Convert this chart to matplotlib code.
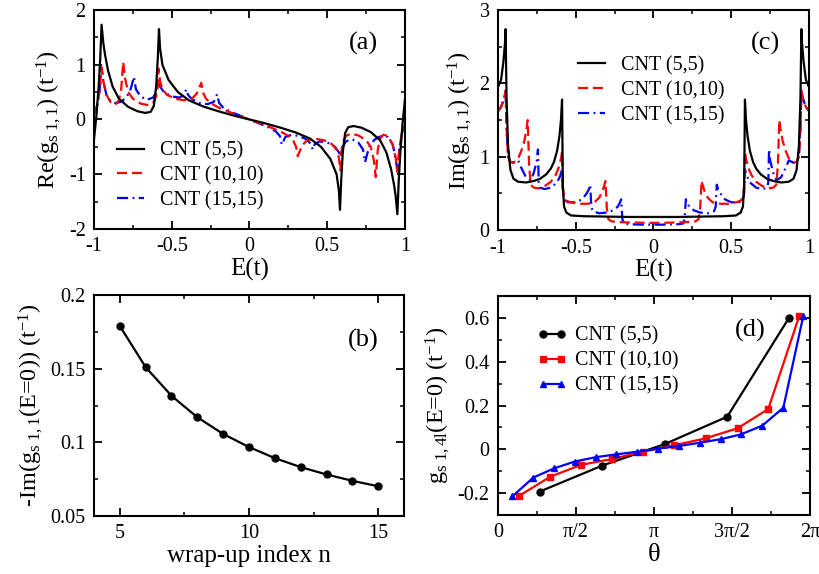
import numpy as np
import matplotlib
matplotlib.use("Agg")
from matplotlib import pyplot as plt
from matplotlib.ticker import MultipleLocator, FixedLocator, FixedFormatter, FormatStrFormatter

plt.rcParams['font.family'] = ['Liberation Serif', 'DejaVu Serif']
plt.rcParams['mathtext.fontset'] = 'custom'
plt.rcParams['mathtext.rm'] = 'Liberation Serif'
plt.rcParams['mathtext.it'] = 'Liberation Serif:italic'
plt.rcParams['axes.unicode_minus'] = False

# ---- panel (a): Re g_s11 vs E ----
e_re_55 = [-1.0, -0.985, -0.97, -0.96, -0.951, -0.94, -0.93, -0.91, -0.88, -0.84, -0.78, -0.72, -0.67,
           -0.635, -0.615, -0.60, -0.59, -0.582, -0.575, -0.56, -0.52, -0.46, -0.39, -0.30, -0.20, -0.10,
           0.0, 0.10, 0.20, 0.30, 0.39, 0.46, 0.52, 0.56, 0.575, 0.582, 0.59, 0.60, 0.615, 0.635, 0.67,
           0.72, 0.78, 0.84, 0.88, 0.91, 0.93, 0.94, 0.951, 0.96, 0.97, 0.985, 1.0]
re_55 = [-0.37, 0.05, 0.6, 1.1, 1.73, 1.4, 1.2, 0.9, 0.6, 0.38, 0.23, 0.15, 0.12,
         0.14, 0.25, 0.6, 1.1, 1.65, 1.3, 1.0, 0.72, 0.5, 0.35, 0.24, 0.15, 0.07,
         0.0, -0.07, -0.15, -0.24, -0.35, -0.5, -0.72, -1.0, -1.3, -1.65, -1.1, -0.6, -0.25, -0.14, -0.12,
         -0.15, -0.23, -0.38, -0.6, -0.9, -1.2, -1.4, -1.73, -1.1, -0.6, -0.05, 0.37]

e_re_1010 = [-1.0, -0.98, -0.965, -0.951, -0.94, -0.92, -0.89, -0.86, -0.84, -0.825, -0.812, -0.80,
             -0.78, -0.75, -0.70, -0.65, -0.62, -0.60, -0.59, -0.585, -0.575, -0.56, -0.53, -0.48,
             -0.42, -0.37, -0.34, -0.32, -0.31, -0.30, -0.28, -0.25, -0.20, -0.14, -0.08, 0.0,
             0.08, 0.14, 0.20, 0.25, 0.28, 0.30, 0.31, 0.32, 0.34, 0.37, 0.42, 0.48, 0.53, 0.56, 0.575,
             0.585, 0.59, 0.60, 0.62, 0.65, 0.70, 0.75, 0.78, 0.80, 0.812, 0.825, 0.84, 0.86, 0.89,
             0.92, 0.94, 0.951, 0.965, 0.98, 1.0]
re_1010 = [0.1, 0.25, 0.5, 0.95, 0.7, 0.45, 0.3, 0.28, 0.35, 0.55, 1.05, 0.75,
           0.5, 0.38, 0.29, 0.26, 0.3, 0.42, 0.6, 0.93, 0.7, 0.55, 0.45, 0.38,
           0.35, 0.38, 0.47, 0.6, 0.67, 0.5, 0.38, 0.3, 0.22, 0.15, 0.08, 0.0,
           -0.08, -0.15, -0.22, -0.3, -0.38, -0.5, -0.67, -0.6, -0.47, -0.38, -0.35, -0.38, -0.45, -0.55, -0.7,
           -0.93, -0.6, -0.42, -0.3, -0.26, -0.29, -0.38, -0.5, -0.75, -1.05, -0.55, -0.35, -0.28, -0.3,
           -0.45, -0.7, -0.95, -0.5, -0.25, -0.1]

e_re_1515 = [-1.0, -0.98, -0.965, -0.951, -0.94, -0.92, -0.89, -0.86, -0.83, -0.80, -0.77, -0.755,
             -0.743, -0.73, -0.70, -0.66, -0.62, -0.60, -0.588, -0.575, -0.55, -0.50, -0.45, -0.42,
             -0.407, -0.395, -0.37, -0.32, -0.27, -0.23, -0.208, -0.195, -0.17, -0.12, -0.06, 0.0,
             0.06, 0.12, 0.17, 0.195, 0.208, 0.23, 0.27, 0.32, 0.37, 0.395, 0.407, 0.42, 0.45, 0.50,
             0.55, 0.575, 0.588, 0.60, 0.62, 0.66, 0.70, 0.73, 0.743, 0.755, 0.77, 0.80, 0.83, 0.86,
             0.89, 0.92, 0.94, 0.951, 0.965, 0.98, 1.0]
re_1515 = [0.1, 0.25, 0.5, 0.95, 0.7, 0.45, 0.32, 0.3, 0.32, 0.38, 0.5, 0.65,
           0.78, 0.55, 0.42, 0.36, 0.4, 0.5, 0.68, 0.6, 0.5, 0.42, 0.4, 0.45,
           0.55, 0.45, 0.37, 0.3, 0.28, 0.32, 0.46, 0.3, 0.22, 0.14, 0.07, 0.0,
           -0.07, -0.14, -0.22, -0.3, -0.46, -0.32, -0.28, -0.3, -0.37, -0.45, -0.55, -0.45, -0.4, -0.42,
           -0.5, -0.6, -0.68, -0.5, -0.4, -0.36, -0.42, -0.55, -0.78, -0.65, -0.5, -0.38, -0.32, -0.3,
           -0.32, -0.45, -0.7, -0.95, -0.5, -0.25, -0.1]

# ---- panel (c): Im g_s11 vs E ----
e_im_55 = [-1.0, -0.98, -0.965, -0.955, -0.951, -0.945, -0.935, -0.92, -0.90, -0.87, -0.82, -0.77, -0.73,
           -0.69, -0.66, -0.64, -0.62, -0.605, -0.595, -0.588, -0.583, -0.575, -0.56, -0.53, -0.45, -0.3,
           -0.15, 0.0, 0.15, 0.3, 0.45, 0.53, 0.56, 0.575, 0.583, 0.588, 0.595, 0.605, 0.62, 0.64, 0.66,
           0.69, 0.73, 0.77, 0.82, 0.87, 0.90, 0.92, 0.935, 0.945, 0.951, 0.955, 0.965, 0.98, 1.0]
im_55 = [1.95, 2.05, 2.3, 2.55, 2.74, 1.8, 1.15, 0.82, 0.7, 0.66, 0.65, 0.67, 0.7,
         0.76, 0.84, 0.93, 1.08, 1.28, 1.5, 1.78, 0.6, 0.32, 0.24, 0.2, 0.19, 0.185,
         0.18, 0.18, 0.18, 0.185, 0.19, 0.2, 0.24, 0.32, 0.6, 1.78, 1.5, 1.28, 1.08, 0.93, 0.84,
         0.76, 0.7, 0.67, 0.65, 0.66, 0.7, 0.82, 1.15, 1.8, 2.74, 2.55, 2.3, 2.05, 1.95]

e_im_1010 = [-1.0, -0.98, -0.96, -0.951, -0.945, -0.935, -0.92, -0.90, -0.87, -0.85, -0.83, -0.815,
             -0.809, -0.80, -0.79, -0.77, -0.74, -0.70, -0.66, -0.63, -0.61, -0.595, -0.588, -0.583,
             -0.575, -0.56, -0.53, -0.48, -0.42, -0.38, -0.35, -0.33, -0.315, -0.309, -0.30, -0.29,
             -0.27, -0.22, -0.15, -0.05, 0.0,
             0.05, 0.15, 0.22, 0.27, 0.29, 0.30, 0.309, 0.315, 0.33, 0.35, 0.38, 0.42, 0.48, 0.53, 0.56,
             0.575, 0.583, 0.588, 0.595, 0.61, 0.63, 0.66, 0.70, 0.74, 0.77, 0.79, 0.80, 0.809, 0.815,
             0.83, 0.85, 0.87, 0.90, 0.92, 0.935, 0.945, 0.951, 0.96, 0.98, 1.0]
im_1010 = [1.62, 1.68, 1.8, 1.9, 1.4, 1.0, 0.93, 0.92, 0.98, 1.08, 1.22, 1.4,
           1.5, 0.9, 0.62, 0.58, 0.57, 0.6, 0.66, 0.75, 0.85, 0.97, 1.07, 0.6,
           0.45, 0.4, 0.38, 0.36, 0.36, 0.38, 0.44, 0.52, 0.62, 0.67, 0.3, 0.15,
           0.12, 0.11, 0.105, 0.1, 0.1,
           0.1, 0.105, 0.11, 0.12, 0.15, 0.3, 0.67, 0.62, 0.52, 0.44, 0.38, 0.36, 0.36, 0.38, 0.4,
           0.45, 0.6, 1.07, 0.97, 0.85, 0.75, 0.66, 0.6, 0.57, 0.58, 0.62, 0.9, 1.5, 1.4,
           1.22, 1.08, 0.98, 0.92, 0.93, 1.0, 1.4, 1.9, 1.8, 1.68, 1.62]

e_im_1515 = [-1.0, -0.98, -0.96, -0.951, -0.945, -0.935, -0.92, -0.90, -0.87, -0.85, -0.82, -0.79,
             -0.77, -0.75, -0.743, -0.738, -0.73, -0.70, -0.66, -0.62, -0.60, -0.588, -0.583, -0.575,
             -0.55, -0.50, -0.46, -0.43, -0.415, -0.407, -0.40, -0.39, -0.35, -0.30, -0.26, -0.23,
             -0.215, -0.208, -0.20, -0.19, -0.15, -0.05, 0.0,
             0.05, 0.15, 0.19, 0.20, 0.208, 0.215, 0.23, 0.26, 0.30, 0.35, 0.39, 0.40, 0.407, 0.415,
             0.43, 0.46, 0.50, 0.55, 0.575, 0.583, 0.588, 0.60, 0.62, 0.66, 0.70, 0.73, 0.738, 0.743,
             0.75, 0.77, 0.79, 0.82, 0.85, 0.87, 0.90, 0.92, 0.935, 0.945, 0.951, 0.96, 0.98, 1.0]
im_1515 = [1.62, 1.68, 1.8, 1.9, 1.4, 1.0, 0.93, 0.92, 0.95, 0.85, 0.72, 0.68,
           0.78, 0.95, 1.1, 0.65, 0.58, 0.56, 0.58, 0.65, 0.74, 0.83, 0.5, 0.42,
           0.38, 0.38, 0.42, 0.5, 0.56, 0.62, 0.32, 0.26, 0.23, 0.24, 0.27, 0.32,
           0.38, 0.42, 0.15, 0.09, 0.08, 0.075, 0.075,
           0.075, 0.08, 0.09, 0.15, 0.42, 0.38, 0.32, 0.27, 0.24, 0.23, 0.26, 0.32, 0.62, 0.56,
           0.5, 0.42, 0.38, 0.38, 0.42, 0.5, 0.83, 0.74, 0.65, 0.58, 0.56, 0.58, 0.65, 1.1,
           0.95, 0.78, 0.68, 0.72, 0.85, 0.95, 0.92, 0.93, 1.0, 1.4, 1.9, 1.8, 1.68, 1.62]

# ---- panel (b): -Im g(E=0) vs n ----
n_index = [5, 6, 7, 8, 9, 10, 11, 12, 13, 14, 15]
im_e0 = [0.179, 0.151, 0.1316, 0.117, 0.1057, 0.0968, 0.0893, 0.0832, 0.0782, 0.0739, 0.0702]

# ---- panel (d): g_s1,4l(E=0) vs theta ----
theta_55 = [0.840, 2.103, 3.360, 4.617, 5.860]
g_55 = [-0.193, -0.074, 0.024, 0.149, 0.600]
theta_1010 = [0.423, 1.055, 1.673, 2.305, 2.923, 3.548, 4.180, 4.825, 5.443, 6.068]
g_1010 = [-0.213, -0.125, -0.071, -0.044, -0.011, 0.018, 0.050, 0.096, 0.184, 0.610]
theta_1515 = [0.289, 0.712, 1.129, 1.546, 1.969, 2.386, 2.809, 3.226, 3.649, 4.066, 4.482,
              4.892, 5.322, 5.746, 6.149]
g_1515 = [-0.215, -0.129, -0.087, -0.056, -0.036, -0.023, -0.011, 0.003, 0.015, 0.030, 0.046,
          0.068, 0.108, 0.190, 0.610]

labels = ["CNT (5,5)", "CNT (10,10)", "CNT (15,15)"]

red_dash = (0, (4.5, 2.2))
blue_dashdot = (0, (5.0, 2.0, 0.8, 2.0))

fig = plt.figure(figsize=(8.2, 5.74), dpi=100)
ax_a = fig.add_axes([0.1146, 0.601, 0.3793, 0.3817])
ax_c = fig.add_axes([0.6073, 0.599, 0.3793, 0.3835])
ax_b = fig.add_axes([0.1146, 0.101, 0.3781, 0.3851])
ax_d = fig.add_axes([0.6073, 0.1028, 0.3805, 0.3815])


def style(ax):
    for s in ax.spines.values():
        s.set_linewidth(1.5)
    ax.tick_params(which='both', direction='in', top=True, right=True, labelsize=14.5, pad=6)
    ax.tick_params(which='major', length=6, width=1.3)
    ax.tick_params(which='minor', length=3.2, width=1.1)


def curves(ax, e1, v1, e2, v2, e3, v3):
    ax.plot(e1, v1, color='black', lw=1.6, label=labels[0], zorder=2.4)
    ax.plot(e2, v2, color='red', lw=1.6, ls=red_dash, label=labels[1], zorder=2.2)
    ax.plot(e3, v3, color='blue', lw=1.6, ls=blue_dashdot, label=labels[2], zorder=2.0)
    ax.set_xlim(-1, 1)
    ax.xaxis.set_major_locator(FixedLocator([-1, -0.5, 0, 0.5, 1]))
    ax.xaxis.set_major_formatter(FixedFormatter(['-1', '-0.5', '0', '0.5', '1']))
    ax.xaxis.set_minor_locator(MultipleLocator(0.25))
    ax.yaxis.set_major_locator(MultipleLocator(1))
    ax.yaxis.set_minor_locator(MultipleLocator(0.5))
    ax.yaxis.set_major_formatter(FormatStrFormatter('%g'))
    ax.set_xlabel('E(t)', fontsize=18, labelpad=1)


leg_kw = dict(frameon=False, fontsize=14.5, handlelength=1.35, handletextpad=0.8,
              labelspacing=0.28, borderaxespad=0, borderpad=0)

# (a)
curves(ax_a, e_re_55, re_55, e_re_1010, re_1010, e_re_1515, re_1515)
ax_a.set_ylim(-2, 2)
ax_a.set_ylabel(r'Re(g$_{\mathrm{s\ 1,1}}$) (t$^{\mathrm{-1}}$)', fontsize=17.5, labelpad=4)
ax_a.text(0.865, 0.849, '(a)', transform=ax_a.transAxes, fontsize=19, ha='center', va='center')
ax_a.legend(loc='lower left', bbox_to_anchor=(0.074, 0.085), **leg_kw)
style(ax_a)

# (c)
curves(ax_c, e_im_55, im_55, e_im_1010, im_1010, e_im_1515, im_1515)
ax_c.set_ylim(0, 3)
ax_c.set_ylabel(r'Im(g$_{\mathrm{s\ 1,1}}$) (t$^{\mathrm{-1}}$)', fontsize=17.5, labelpad=4)
ax_c.text(0.859, 0.85, '(c)', transform=ax_c.transAxes, fontsize=19, ha='center', va='center')
ax_c.legend(loc='upper left', bbox_to_anchor=(0.257, 0.79), **leg_kw)
style(ax_c)

# (b)
ax_b.plot(n_index, im_e0, color='black', lw=1.6, marker='o', ms=5)
ax_b.set_xlim(4, 16)
ax_b.set_ylim(0.05, 0.2)
ax_b.xaxis.set_major_locator(MultipleLocator(5))
ax_b.xaxis.set_minor_locator(MultipleLocator(2.5))
ax_b.yaxis.set_major_locator(MultipleLocator(0.05))
ax_b.yaxis.set_minor_locator(MultipleLocator(0.025))
ax_b.yaxis.set_major_formatter(FormatStrFormatter('%g'))
ax_b.set_xlabel('wrap-up index n', fontsize=18, labelpad=1)
ax_b.set_ylabel(r'-Im(g$_{\mathrm{s\ 1,1}}$(E=0)) (t$^{\mathrm{-1}}$)', fontsize=17.5, labelpad=4)
ax_b.text(0.868, 0.796, '(b)', transform=ax_b.transAxes, fontsize=19, ha='center', va='center')
style(ax_b)

# (d)
ax_d.plot(theta_55, g_55, color='black', lw=1.6, marker='o', ms=5, label=labels[0])
ax_d.plot(theta_1010, g_1010, color='red', lw=1.6, marker='s', ms=4.5, label=labels[1])
ax_d.plot(theta_1515, g_1515, color='blue', lw=1.6, marker='^', ms=5, label=labels[2])
ax_d.set_xlim(0, 2 * np.pi)
ax_d.set_ylim(-0.3, 0.7)
ax_d.xaxis.set_major_locator(FixedLocator([0, np.pi / 2, np.pi, 3 * np.pi / 2, 2 * np.pi]))
ax_d.xaxis.set_major_formatter(FixedFormatter(['0', 'π/2', 'π', '3π/2', '2π']))
ax_d.xaxis.set_minor_locator(MultipleLocator(np.pi / 4))
ax_d.yaxis.set_major_locator(MultipleLocator(0.2))
ax_d.yaxis.set_minor_locator(MultipleLocator(0.1))
ax_d.yaxis.set_major_formatter(FormatStrFormatter('%g'))
ax_d.set_xlabel('θ', fontsize=19, labelpad=1)
ax_d.set_ylabel(r'g$_{\mathrm{s\ 1,4l}}$(E=0) (t$^{\mathrm{-1}}$)', fontsize=17.5, labelpad=4)
ax_d.text(0.808, 0.845, '(d)', transform=ax_d.transAxes, fontsize=19, ha='center', va='center')
ax_d.legend(loc='upper left', bbox_to_anchor=(0.125, 0.86), numpoints=2,
            **dict(leg_kw, handlelength=1.5, handletextpad=0.4))
style(ax_d)

fig.savefig('out.png', dpi=100)
